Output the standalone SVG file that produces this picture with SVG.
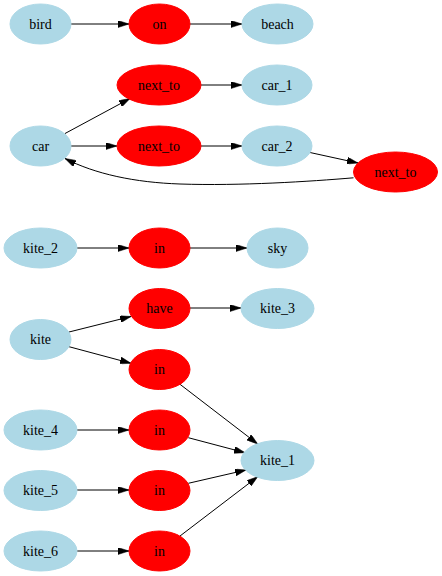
<svg xmlns="http://www.w3.org/2000/svg" width="442" height="576" viewBox="0 0 442 576">
  <style>
    .ent ellipse { fill: #add8e6; stroke: #add8e6; }
    .rel ellipse { fill: #ff0000; stroke: #ff0000; }
    text { font-family: "Liberation Serif", "Tinos", "Noto Serif", "DejaVu Serif", "FreeSerif", "Times New Roman", Times, serif; font-size: 14px; fill: #000; text-anchor: middle; dominant-baseline: central; }
    #edges path { fill: none; stroke: #000; stroke-width: 1; marker-end: url(#arrow); }
  </style>
  <defs>
    <marker id="arrow" viewBox="0 0 11 7" refX="11" refY="3.5" markerWidth="11" markerHeight="7" orient="auto" markerUnits="userSpaceOnUse">
      <path d="M0,0 L11,3.5 L0,7 z" fill="#000" stroke="#000" stroke-width="0.5"/>
    </marker>
  </defs>
  <rect width="442" height="576" fill="#fff"/>

  <!-- connectors -->
  <g id="edges">
    <path d="M71,24 L129,24"/>
    <path d="M190,24 L242,24"/>
    <path d="M65,133.5 L130,98.5"/>
    <path d="M71,146 L117,146"/>
    <path d="M201,85 L242,85"/>
    <path d="M201,146 L242,146"/>
    <path d="M310,152.5 L358,163"/>
    <path d="M353.5,177.8 C310,181.5 240,186 180,184 C135,182.5 95,174 65,158.5"/>
    <path d="M77,248 L129,248"/>
    <path d="M190,248 L247,248"/>
    <path d="M69,332 L131,316.5"/>
    <path d="M69,346.7 L131,363.3"/>
    <path d="M190,308 L241,308"/>
    <path d="M180,384.3 L257.7,444"/>
    <path d="M77,430 L129,430"/>
    <path d="M188.3,437.7 L245,452.7"/>
    <path d="M77,490 L129,490"/>
    <path d="M188.3,483.3 L246,470"/>
    <path d="M77,551 L129,551"/>
    <path d="M180,536 L257.7,476.7"/>
  </g>

  <!-- nodes -->
  <g id="bird" class="ent"><ellipse cx="40.5" cy="24" rx="30.5" ry="20"/><text x="40.5" y="24">bird</text></g>
  <g id="on" class="rel"><ellipse cx="159.5" cy="24" rx="30.5" ry="20"/><text x="159.5" y="24">on</text></g>
  <g id="beach" class="ent"><ellipse cx="277.5" cy="24" rx="35.5" ry="20"/><text x="277.5" y="24">beach</text></g>

  <g id="next_to_1" class="rel"><ellipse cx="159" cy="85" rx="42" ry="20"/><text x="159" y="85">next_to</text></g>
  <g id="car_1" class="ent"><ellipse cx="277" cy="85" rx="35" ry="20"/><text x="277" y="85">car_1</text></g>
  <g id="car" class="ent"><ellipse cx="40.5" cy="146" rx="30.5" ry="20"/><text x="40.5" y="146">car</text></g>
  <g id="next_to_2" class="rel"><ellipse cx="159" cy="146" rx="42" ry="20"/><text x="159" y="146">next_to</text></g>
  <g id="car_2" class="ent"><ellipse cx="277" cy="146" rx="35" ry="20"/><text x="277" y="146">car_2</text></g>
  <g id="next_to_3" class="rel"><ellipse cx="395.5" cy="172" rx="42" ry="20"/><text x="395.5" y="172">next_to</text></g>

  <g id="kite_2" class="ent"><ellipse cx="40.5" cy="248" rx="36.5" ry="20"/><text x="40.5" y="248">kite_2</text></g>
  <g id="in_1" class="rel"><ellipse cx="159.5" cy="248" rx="30.5" ry="20"/><text x="159.5" y="248">in</text></g>
  <g id="sky" class="ent"><ellipse cx="277.5" cy="248" rx="30.5" ry="20"/><text x="277.5" y="248">sky</text></g>

  <g id="have" class="rel"><ellipse cx="159.5" cy="308.5" rx="30.5" ry="20"/><text x="159.5" y="308.5">have</text></g>
  <g id="kite_3" class="ent"><ellipse cx="277.5" cy="308.5" rx="36.5" ry="20"/><text x="277.5" y="308.5">kite_3</text></g>
  <g id="kite" class="ent"><ellipse cx="40.5" cy="339.5" rx="30.5" ry="20"/><text x="40.5" y="339.5">kite</text></g>
  <g id="in_2" class="rel"><ellipse cx="159.5" cy="369.5" rx="30.5" ry="20"/><text x="159.5" y="369.5">in</text></g>

  <g id="kite_4" class="ent"><ellipse cx="40.5" cy="430" rx="36.5" ry="20"/><text x="40.5" y="430">kite_4</text></g>
  <g id="in_3" class="rel"><ellipse cx="159.5" cy="430" rx="30.5" ry="20"/><text x="159.5" y="430">in</text></g>
  <g id="kite_1" class="ent"><ellipse cx="277.5" cy="460.5" rx="36.5" ry="20"/><text x="277.5" y="460.5">kite_1</text></g>
  <g id="kite_5" class="ent"><ellipse cx="40.5" cy="490.5" rx="36.5" ry="20"/><text x="40.5" y="490.5">kite_5</text></g>
  <g id="in_4" class="rel"><ellipse cx="159.5" cy="490.5" rx="30.5" ry="20"/><text x="159.5" y="490.5">in</text></g>
  <g id="kite_6" class="ent"><ellipse cx="40.5" cy="551" rx="36.5" ry="20"/><text x="40.5" y="551">kite_6</text></g>
  <g id="in_5" class="rel"><ellipse cx="159.5" cy="551" rx="30.5" ry="20"/><text x="159.5" y="551">in</text></g>
</svg>
